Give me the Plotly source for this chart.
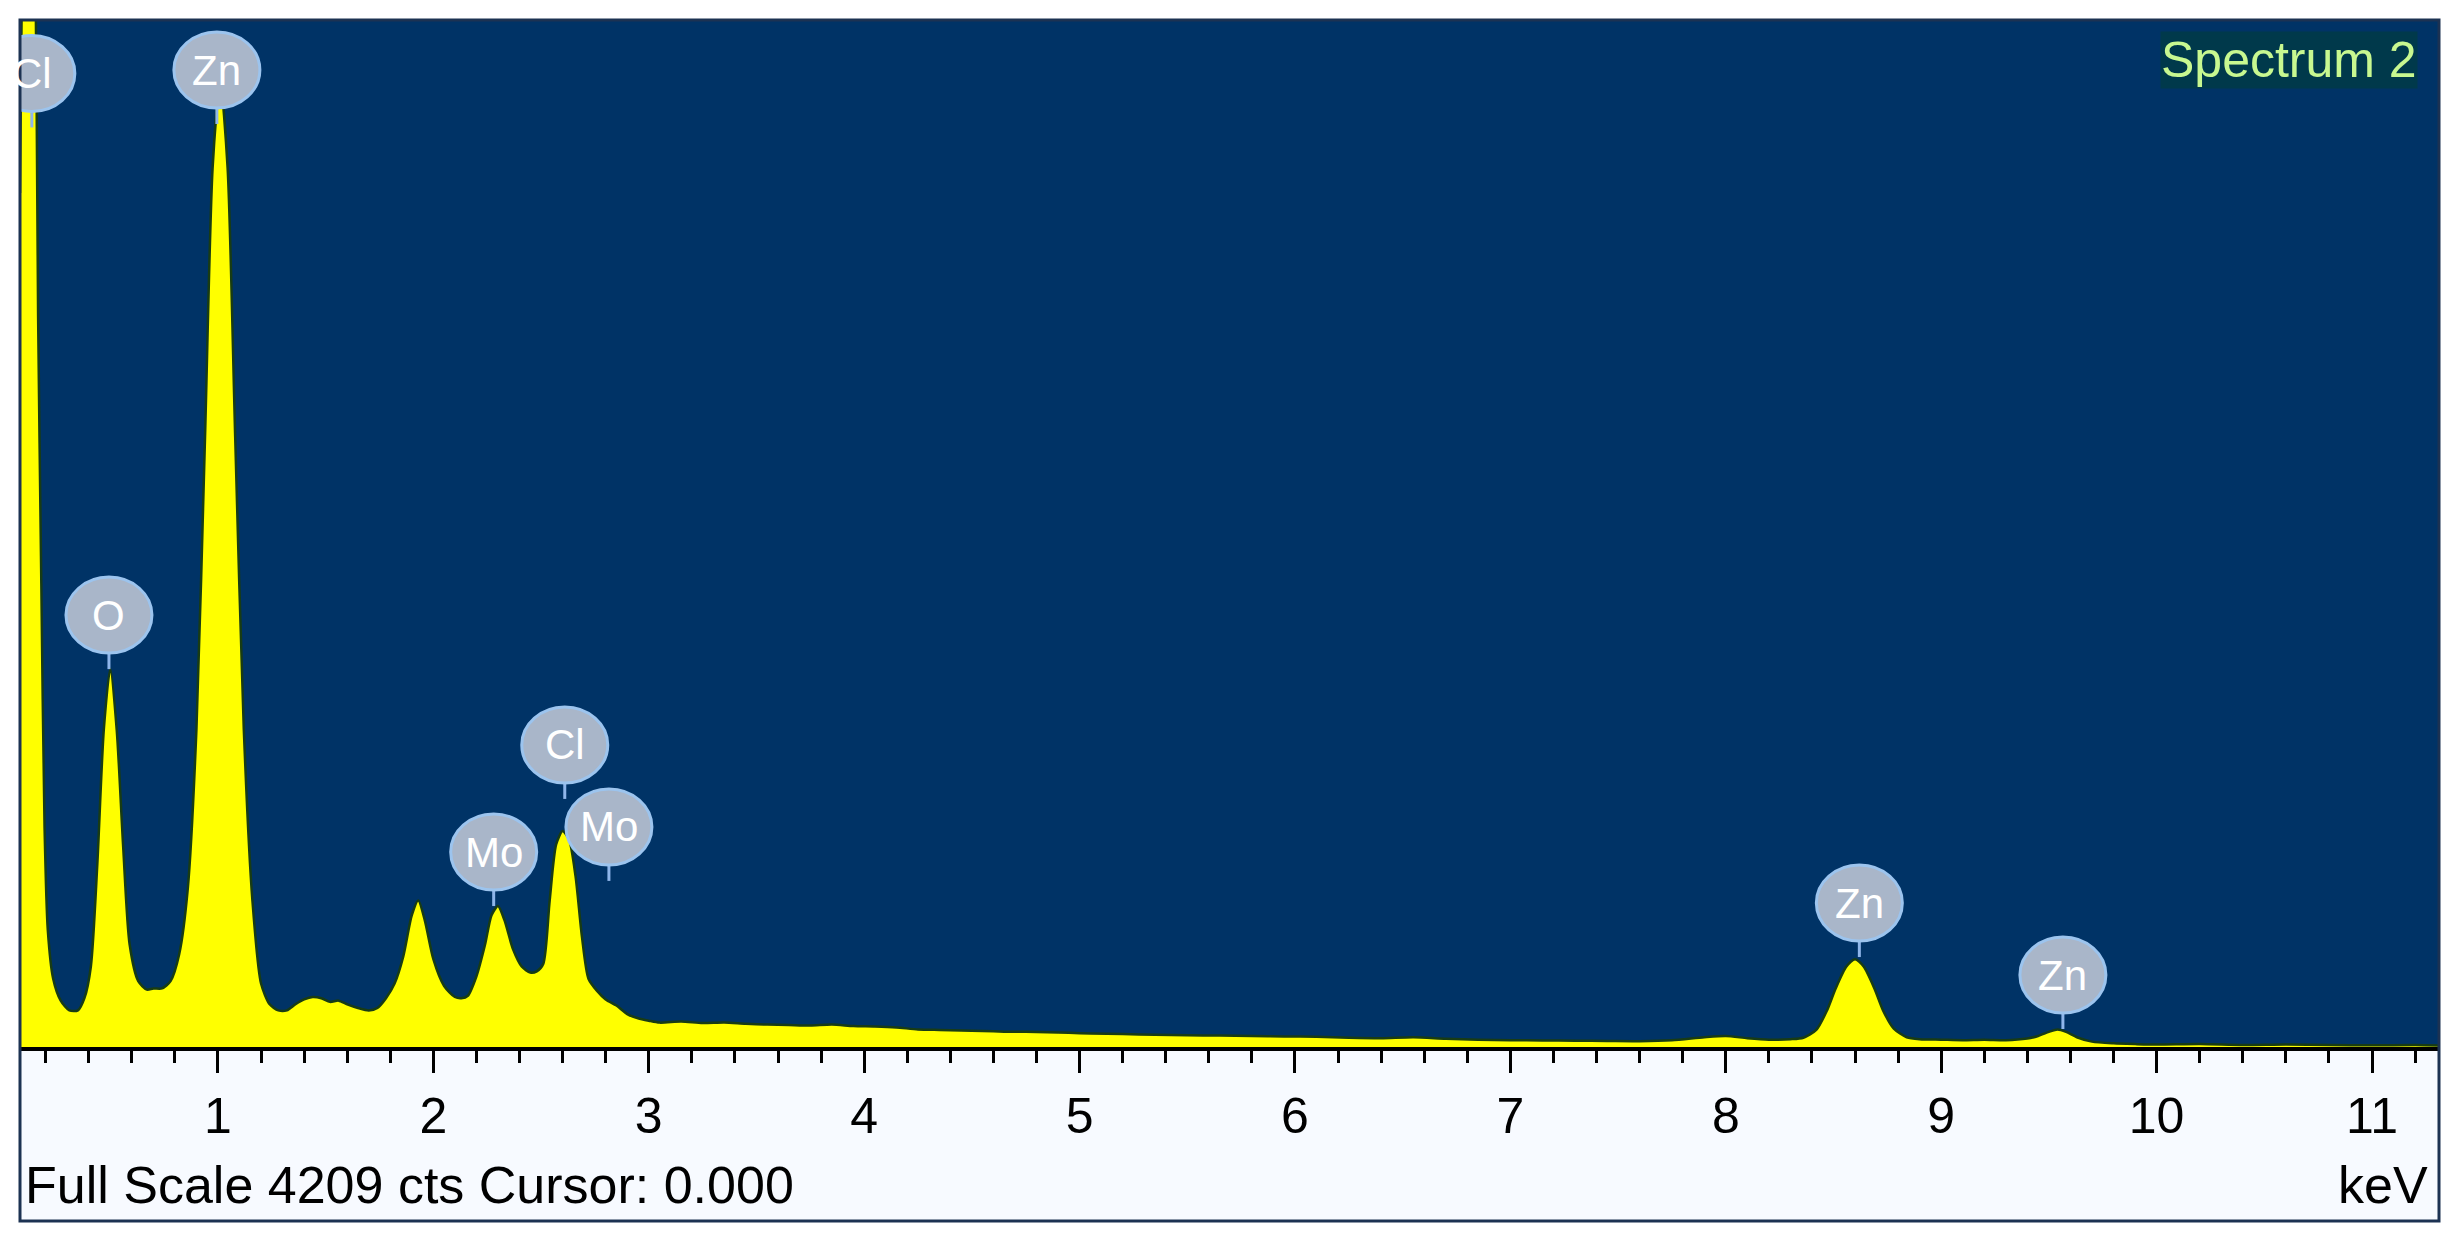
import plotly.graph_objects as go

# ---------------- data ----------------
energy_kev = [
    0.081, 0.10, 0.125, 0.15, 0.165, 0.18, 0.195, 0.21, 0.235, 0.27, 0.31, 0.35,
    0.38, 0.41, 0.44, 0.47, 0.50, 0.53, 0.56, 0.59, 0.63, 0.67, 0.70,
    0.74, 0.78, 0.82, 0.86, 0.90, 0.94, 0.975, 1.01, 1.045, 1.08, 1.12, 1.16, 1.20, 1.24, 1.28,
    1.32, 1.36, 1.40, 1.44, 1.48, 1.52, 1.56, 1.60, 1.65, 1.70, 1.74,
    1.78, 1.82, 1.86, 1.90, 1.93, 1.96, 2.00, 2.05, 2.10, 2.13,
    2.16, 2.20, 2.24, 2.27, 2.30, 2.33, 2.37, 2.41, 2.45,
    2.48, 2.51, 2.54, 2.57, 2.60, 2.63, 2.66, 2.69, 2.72, 2.76, 2.80, 2.85, 2.90, 2.95, 3.00,
    3.05, 3.15, 3.25, 3.35, 3.45, 3.55, 3.65, 3.75, 3.85, 3.95, 4.05, 4.15, 4.25, 4.35, 4.45,
    4.55, 4.65, 4.75, 4.85, 4.95, 5.05, 5.20, 5.35, 5.50, 5.65, 5.80, 5.95, 6.10, 6.25, 6.40,
    6.55, 6.70, 6.85, 7.00, 7.15, 7.30, 7.45, 7.60, 7.75, 7.90, 8.00, 8.10, 8.20, 8.30,
    8.36, 8.42, 8.47, 8.51, 8.56, 8.60, 8.64, 8.69, 8.73, 8.78, 8.84, 8.90, 9.00, 9.10, 9.20,
    9.30, 9.40, 9.45, 9.50, 9.54, 9.58, 9.63, 9.70, 9.80, 9.90, 10.0, 10.2, 10.4, 10.6, 10.8,
    11.0, 11.2, 11.31,
]
counts = [
    3500, 5000, 5600, 4700, 3000, 1900, 900, 480, 280, 190, 150, 150,
    200, 330, 750, 1300, 1550, 1300, 820, 420, 270, 235, 240,
    240, 270, 380, 650, 1300, 2500, 3600, 3960, 3600, 2500, 1300, 600, 260, 175, 150,
    150, 175, 195, 205, 200, 185, 190, 175, 160, 150, 160,
    200, 260, 370, 540, 600, 520, 360, 250, 205, 200,
    210, 290, 420, 540, 578, 520, 400, 330, 305,
    310, 340, 600, 830, 885, 850, 700, 450, 280, 230, 195, 170, 135, 118, 108,
    100, 104, 98, 100, 95, 92, 90, 88, 92, 86, 84, 80, 72, 70, 68,
    66, 63, 62, 60, 58, 55, 53, 50, 48, 47, 45, 43, 42, 38, 36,
    40, 34, 30, 28, 27, 26, 25, 24, 28, 40, 45, 36, 30, 32,
    38, 70, 150, 240, 330, 360, 330, 240, 150, 75, 40, 32, 30, 28, 30,
    28, 35, 45, 62, 72, 62, 40, 22, 15, 12, 10, 12, 8, 10, 8,
    7, 8, 6,
]

peak_labels = ["Cl", "Zn", "O", "Mo", "Cl", "Mo", "Zn", "Zn"]
label_kev = [0.136, 0.995, 0.494, 2.28, 2.61, 2.815, 8.62, 9.565]
label_counts = [3990, 4004, 1770, 799, 1238, 902, 590, 295]

tick_values = [1, 2, 3, 4, 5, 6, 7, 8, 9, 10, 11]
tick_text = ["1", "2", "3", "4", "5", "6", "7", "8", "9", "10", "11"]

full_scale = 4209
x_range = [0.081, 11.311]
title_text = "Spectrum 2"
footer_text = "Full Scale 4209 cts Cursor: 0.000"
unit_text = "keV"

FONT = "Liberation Sans, Arial, sans-serif"

fig = go.Figure()
fig.add_trace(go.Scatter(
    x=energy_kev, y=counts, mode="lines",
    line=dict(color="#183c14", width=2.5, shape="spline", smoothing=0.7),
    fill="tozeroy", fillcolor="#ffff00", hoverinfo="skip", showlegend=False,
))

shapes = []
# lower white panel and frame (paper coordinates)
panel_bottom = -(1221 - 1047) / 1027
shapes.append(dict(type="rect", xref="paper", yref="paper", x0=0, x1=1, y0=panel_bottom, y1=0,
                   fillcolor="#f7faff", line=dict(width=0), layer="below"))

annotations = []
for name, kx, ky in zip(peak_labels, label_kev, label_counts):
    shapes.append(dict(type="line", xref="x", yref="y", ysizemode="pixel", yanchor=ky,
                       x0=kx, x1=kx, y0=-54, y1=-34,
                       line=dict(color="#8fb6ea", width=3), layer="above"))
    shapes.append(dict(type="circle", xref="x", yref="y", xsizemode="pixel", ysizemode="pixel",
                       xanchor=kx, yanchor=ky, x0=-43, x1=43, y0=-38, y1=38,
                       fillcolor="#a9b6c9", line=dict(color="#9cc4ee", width=3), layer="above"))
    annotations.append(dict(x=kx, y=ky, xref="x", yref="y", text=name, showarrow=False,
                            font=dict(family=FONT, size=42, color="white"),
                            xanchor="center", yanchor="middle"))

shapes.append(dict(type="rect", xref="paper", yref="paper", x0=0, x1=1, y0=panel_bottom, y1=1,
                   fillcolor="rgba(0,0,0,0)", line=dict(color="#1c3252", width=3), layer="above"))

annotations.append(dict(x=0.9913, y=0.961, xref="paper", yref="paper", text=title_text,
                        showarrow=False, xanchor="right", yanchor="middle",
                        font=dict(family=FONT, size=50, color="#c8f890"),
                        bgcolor="rgba(0,70,25,0.35)", borderpad=0))
annotations.append(dict(x=0.0012, y=-(1185 - 1047) / 1027, xref="paper", yref="paper",
                        text=footer_text, showarrow=False, xanchor="left", yanchor="middle",
                        font=dict(family=FONT, size=52, color="black")))
annotations.append(dict(x=0.9963, y=-(1185 - 1047) / 1027, xref="paper", yref="paper",
                        text=unit_text, showarrow=False, xanchor="right", yanchor="middle",
                        font=dict(family=FONT, size=52, color="black")))

fig.update_layout(
    width=2462, height=1248, autosize=False,
    margin=dict(l=20, r=23, t=20, b=201, pad=0),
    paper_bgcolor="white", plot_bgcolor="#003366",
    shapes=shapes, annotations=annotations, showlegend=False,
    xaxis=dict(range=x_range, tickvals=tick_values, ticktext=tick_text,
               ticks="outside", ticklen=22, tickwidth=3, tickcolor="black",
               showline=True, linecolor="black", linewidth=4,
               showgrid=False, zeroline=False, ticklabelstandoff=0,
               tickfont=dict(family=FONT, size=50, color="black"),
               minor=dict(dtick=0.2, tick0=0, ticks="outside", ticklen=12,
                          tickwidth=3, tickcolor="black", showgrid=False)),
    yaxis=dict(range=[0, full_scale], visible=False, showgrid=False, zeroline=False),
)

fig.write_html("out.html", config={"displayModeBar": False},
               post_script="document.body.style.margin='0';")
